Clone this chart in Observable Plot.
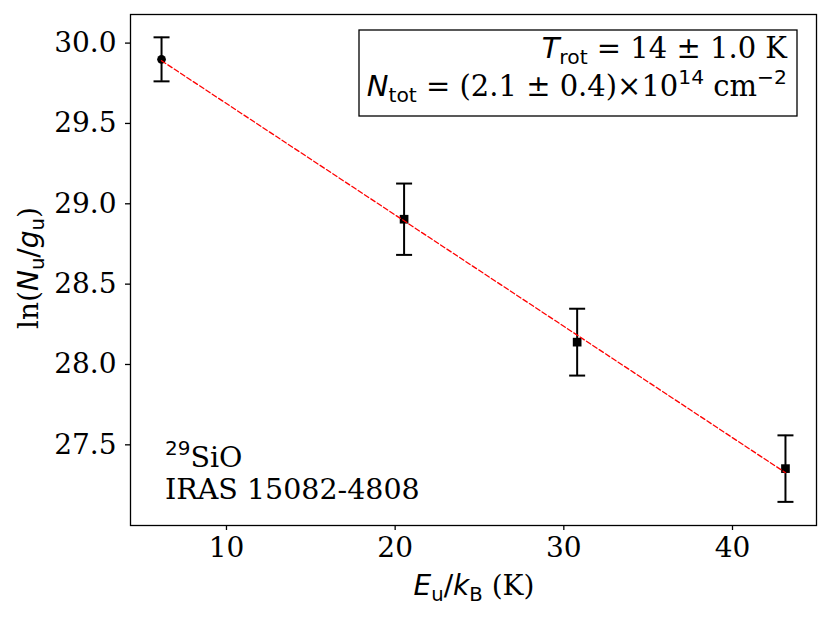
<!DOCTYPE html>
<html>
<head>
<meta charset="utf-8">
<script src="https://cdn.jsdelivr.net/npm/d3@7"></script>
<script src="https://cdn.jsdelivr.net/npm/@observablehq/plot@0.6"></script>
<style>
  html, body { margin: 0; padding: 0; background: #fff; }
  #chart { width: 830px; height: 617px; }
</style>
</head>
<body>
<div id="chart"></div>
<script>
// Data
const energies = [6.15, 20.53, 30.79, 43.14];          // E_u/k_B (K)
const lnNg     = [29.899, 28.904, 28.139, 27.352];       // ln(N_u/g_u)
const errors   = [0.137, 0.222, 0.208, 0.207];           // 1-sigma
const markers  = ["circle", "square", "square", "square"];
const xTicks = [10, 20, 30, 40];
const yTicks = [27.5, 28.0, 28.5, 29.0, 29.5, 30.0];
const xDomain = [4.31, 44.98];
const yDomain = [26.998, 30.178];

const data = energies.map((e, i) => ({x: e, y: lnNg[i], err: errors[i], m: markers[i]}));

const W = 830, H = 617;
const mL = 130, mR = 14, mT = 14, mB = 92;

const capSymbol = { draw(ctx) { ctx.moveTo(-8, 0); ctx.lineTo(8, 0); } };

const chart = Plot.plot({
  width: W, height: H,
  marginLeft: mL, marginRight: mR, marginTop: mT, marginBottom: mB,
  style: {fontFamily: "DejaVu Serif", fontSize: "28px", color: "black", background: "white", overflow: "visible"},
  x: {domain: xDomain},
  y: {domain: yDomain},
  marks: [
    Plot.axisX({ticks: xTicks, tickSize: 5, tickPadding: 7, label: null, strokeWidth: 1.3, fontSize: 28}),
    Plot.axisY({ticks: yTicks, tickFormat: d3.format(".1f"), tickSize: 5, tickPadding: 9, label: null, strokeWidth: 1.3, fontSize: 28}),
    Plot.ruleX(data, {x: "x", y1: d => d.y - d.err, y2: d => d.y + d.err, stroke: "black", strokeWidth: 2}),
    Plot.dot(data, {x: "x", y: d => d.y + d.err, symbol: capSymbol, stroke: "black", fill: "none", strokeWidth: 2}),
    Plot.dot(data, {x: "x", y: d => d.y - d.err, symbol: capSymbol, stroke: "black", fill: "none", strokeWidth: 2}),
    Plot.dot(data.filter(d => d.m === "circle"), {x: "x", y: "y", symbol: "circle", r: 4.35, fill: "black", stroke: "none"}),
    Plot.dot(data.filter(d => d.m === "square"), {x: "x", y: "y", symbol: "square", r: 4.9, fill: "black", stroke: "none"}),
    Plot.linearRegressionY(data, {x: "x", y: "y", stroke: "#ff0000", strokeWidth: 1.3, strokeDasharray: "5,2.6", ci: 0}),
    Plot.frame({stroke: "black", strokeWidth: 1.3})
  ]
});
document.getElementById("chart").appendChild(chart);

const svg = d3.select(chart);
const SANS = "DejaVu Sans", SERIF = "DejaVu Serif";

// helper: rich text with sub/superscripts
function rich(g, x, y, anchor, size, segs) {
  const t = g.append("text").attr("x", x).attr("y", y)
    .attr("text-anchor", anchor).attr("font-size", size).attr("fill", "black");
  for (const s of segs) {
    const sp = t.append("tspan").text(s.t)
      .attr("font-family", s.f || SERIF)
      .attr("font-style", s.i ? "italic" : "normal");
    if (s.sub) sp.attr("font-size", size * 0.7).attr("baseline-shift", -size * 0.2);
    else if (s.sup) sp.attr("font-size", size * 0.7).attr("baseline-shift", size * 0.42);
    else sp.attr("font-size", size);
  }
  return t;
}

const g = svg.append("g");

// axis labels
rich(g, 474, 595, "middle", 28, [
  {t: "E", f: SANS, i: true}, {t: "u", f: SANS, sub: true},
  {t: "/", f: SANS}, {t: "k", f: SANS, i: true}, {t: "B", f: SANS, sub: true},
  {t: " (K)"}
]);
rich(g, 0, 0, "middle", 28, [
  {t: "ln("}, {t: "N", f: SANS, i: true}, {t: "u", f: SANS, sub: true},
  {t: "/", f: SANS}, {t: "g", f: SANS, i: true}, {t: "u", f: SANS, sub: true}, {t: ")"}
]).attr("transform", "translate(38,268) rotate(-90)");

// source annotation (bottom-left)
rich(g, 165, 467, "start", 28.5, [{t: "29", f: SANS, sup: true}, {t: "SiO"}]);
rich(g, 165, 499, "start", 28.5, [{t: "IRAS 15082-4808"}]);

// fit result box (top-right)
g.append("rect").attr("x", 359).attr("y", 30).attr("width", 438).attr("height", 86)
  .attr("fill", "white").attr("stroke", "black").attr("stroke-width", 1.3);
rich(g, 787, 58, "end", 29, [
  {t: "T", f: SANS, i: true}, {t: "rot", f: SANS, sub: true}, {t: " = 14 ± 1.0 K"}
]);
rich(g, 787, 96, "end", 29, [
  {t: "N", f: SANS, i: true}, {t: "tot", f: SANS, sub: true}, {t: " = (2.1 ± 0.4)×10"},
  {t: "14", f: SANS, sup: true}, {t: " cm"}, {t: "−2", f: SANS, sup: true}
]);
</script>
</body>
</html>
